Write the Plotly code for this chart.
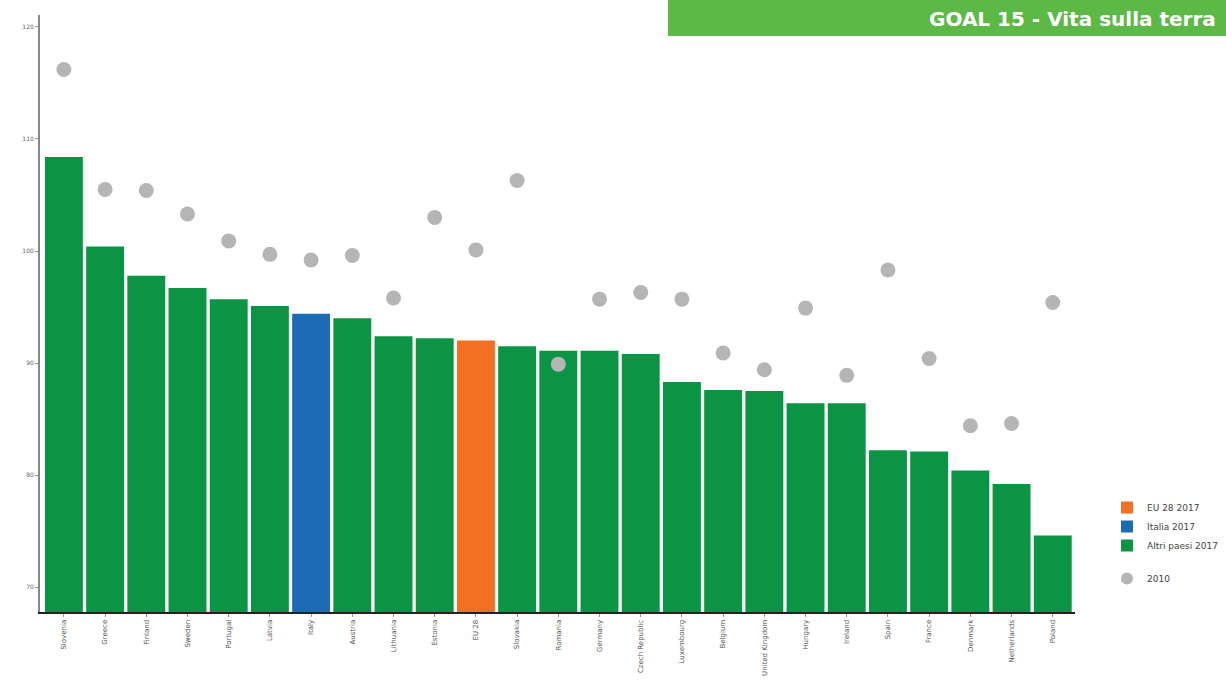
import plotly.graph_objects as go

# Country categories, in descending order of the 2017 value
countries = [
    "Slovenia", "Greece", "Finland", "Sweden", "Portugal", "Latvia", "Italy",
    "Austria", "Lithuania", "Estonia", "EU 28", "Slovakia", "Romania", "Germany",
    "Czech Republic", "Luxembourg", "Belgium", "United Kingdom", "Hungary",
    "Ireland", "Spain", "France", "Denmark", "Netherlands", "Poland",
]

values_2017 = [
    108.4, 100.4, 97.8, 96.7, 95.7, 95.1, 94.4, 94.0, 92.4, 92.2, 92.0, 91.5,
    91.1, 91.1, 90.8, 88.3, 87.6, 87.5, 86.4, 86.4, 82.2, 82.1, 80.4, 79.2, 74.6,
]

values_2010 = [
    116.2, 105.5, 105.4, 103.3, 100.9, 99.7, 99.2, 99.6, 95.8, 103.0, 100.1, 106.3,
    89.9, 95.7, 96.3, 95.7, 90.9, 89.4, 94.9, 88.9, 98.3, 90.4, 84.4, 84.6, 95.4,
]

y_ticks = [70, 80, 90, 100, 110, 120]

EU_LABEL = "EU 28"
ITALY_LABEL = "Italy"

GREEN = "#0b9444"
ORANGE = "#f36f21"
BLUE = "#1c6cb5"
DOT = "#b5b5b5"


def subset(names, vals, keep):
    xs, ys = [], []
    for n, v in zip(names, vals):
        if keep(n):
            xs.append(n)
            ys.append(v)
    return xs, ys


eu_x, eu_y = subset(countries, values_2017, lambda n: n == EU_LABEL)
it_x, it_y = subset(countries, values_2017, lambda n: n == ITALY_LABEL)
ot_x, ot_y = subset(countries, values_2017, lambda n: n not in (EU_LABEL, ITALY_LABEL))

fig = go.Figure()
fig.add_trace(go.Bar(x=eu_x, y=eu_y, name="EU 28 2017", marker_color=ORANGE,
                     marker_line_width=0, legendgroup="bars"))
fig.add_trace(go.Bar(x=it_x, y=it_y, name="Italia 2017", marker_color=BLUE,
                     marker_line_width=0, legendgroup="bars"))
fig.add_trace(go.Bar(x=ot_x, y=ot_y, name="Altri paesi 2017", marker_color=GREEN,
                     marker_line_width=0, legendgroup="bars"))
fig.add_trace(go.Scatter(x=countries, y=values_2010, mode="markers", name="2010",
                         marker=dict(color=DOT, size=15, line_width=0),
                         legendgroup="dots"))

# Plot area geometry in pixels (used to place the header banner)
FW, FH = 1226, 690
L, R, T, B = 40, 151, 15, 78
W = FW - L - R
H = FH - T - B


def px_to_paper_x(px):
    return (px - L) / W


def px_to_paper_y(py):
    return (FH - B - py) / H


fig.update_layout(
    width=FW, height=FH,
    margin=dict(l=L, r=R, t=T, b=B),
    paper_bgcolor="white", plot_bgcolor="white",
    barmode="relative", bargap=0.08,
    font=dict(family="DejaVu Sans", color="#555555"),
    showlegend=True,
    legend=dict(
        xref="container", yref="container",
        x=1107 / FW, xanchor="left",
        y=1 - 493 / FH, yanchor="top",
        font=dict(size=9, color="#444444"),
        traceorder="grouped", tracegroupgap=14,
        itemsizing="constant", bgcolor="rgba(0,0,0,0)",
    ),
    xaxis=dict(
        categoryorder="array", categoryarray=countries,
        tickangle=-90, tickfont=dict(size=7, color="#555555"),
        showline=True, linecolor="#222222", linewidth=2,
        ticks="outside", ticklen=3, tickcolor="#999999",
        showgrid=False, zeroline=False,
        range=[-0.58, 24.54],
    ),
    yaxis=dict(
        range=[67.77, 121.07], tickvals=y_ticks,
        tickfont=dict(size=6, color="#666666"),
        showline=True, linecolor="#888888", linewidth=2,
        ticks="outside", ticklen=3, tickcolor="#999999",
        showgrid=False, zeroline=False,
    ),
    shapes=[dict(
        type="rect", xref="paper", yref="paper",
        x0=px_to_paper_x(668), x1=px_to_paper_x(1240),
        y0=px_to_paper_y(36), y1=px_to_paper_y(-5),
        fillcolor="#5cb946", line_width=0, layer="above",
    )],
    annotations=[dict(
        text="<b>GOAL 15 - Vita sulla terra</b>",
        xref="paper", yref="paper",
        x=px_to_paper_x(927), xanchor="left",
        y=px_to_paper_y(19), yanchor="middle",
        showarrow=False, font=dict(size=20, color="white", family="DejaVu Sans"),
    )],
)

fig.write_html("out.html")
